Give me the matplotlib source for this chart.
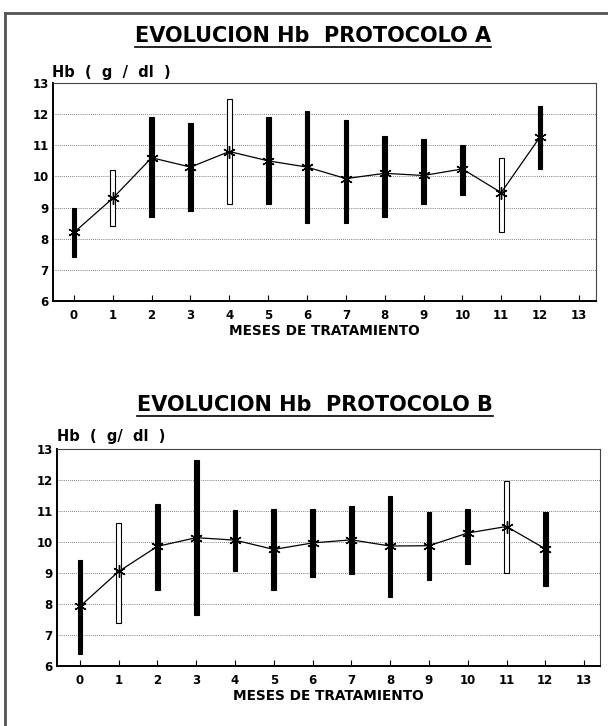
import numpy as np
import matplotlib
matplotlib.use("Agg")
import matplotlib.pyplot as plt
from matplotlib.lines import Line2D

plt.rcParams['font.family'] = ['DejaVu Sans']
plt.rcParams['font.weight'] = 'bold'

meses = list(range(13))
ticks_x = list(range(14))

# Protocolo A
a_media = [8.2, 9.3, 10.6, 10.3, 10.8, 10.5, 10.3, 9.93, 10.1, 10.03, 10.24, 9.48, 11.27]
a_min = [7.4, 8.4, 8.7, 8.9, 9.1, 9.1, 8.5, 8.5, 8.7, 9.1, 9.4, 8.2, 10.25]
a_max = [9.0, 10.2, 11.9, 11.7, 12.5, 11.9, 12.1, 11.8, 11.3, 11.2, 11.0, 10.6, 12.25]
a_hueco = [False, True, False, False, True, False, False, False, False, False, False, True, False]

# Protocolo B
b_media = [7.92, 9.05, 9.86, 10.14, 10.06, 9.76, 9.97, 10.07, 9.87, 9.88, 10.29, 10.5, 9.78]
b_min = [6.4, 7.4, 8.44, 7.63, 9.05, 8.45, 8.87, 8.97, 8.24, 8.76, 9.28, 9.0, 8.58]
b_max = [9.42, 10.62, 11.24, 12.64, 11.04, 11.05, 11.06, 11.15, 11.47, 10.97, 11.07, 11.98, 10.98]
b_hueco = [False, True, False, False, False, False, False, False, False, False, False, True, False]

W, H = 608, 726
fig = plt.figure(figsize=(W / 100, H / 100), dpi=100)


def px_ax(l, r, t, b):
    return fig.add_axes([l / W, 1 - b / H, (r - l) / W, (b - t) / H])


def panel(ax, media, lo, hi, hueco, xlim):
    lo = np.array(lo)
    hi = np.array(hi)
    colores = ['white' if h else 'black' for h in hueco]
    ax.bar(meses, hi - lo, bottom=lo, width=0.12, color=colores,
           edgecolor='black', linewidth=0.8, zorder=3)
    ax.plot(meses, media, color='black', linewidth=0.9, marker=(6, 2, 0),
            markersize=9, markeredgewidth=1.0, zorder=4)
    ax.set_xlim(*xlim)
    ax.set_ylim(6, 13)
    ax.set_xticks(ticks_x)
    ax.set_yticks(range(6, 14))
    ax.yaxis.grid(True, linestyle=(0, (1, 1.5)), color='#555555', linewidth=0.6)
    ax.set_axisbelow(True)
    ax.tick_params(axis='x', direction='in', length=4, width=0.8, pad=6,
                   labelsize=8.5)
    ax.tick_params(axis='y', length=0, pad=3, labelsize=8.5)
    for s in ['left', 'bottom']:
        ax.spines[s].set_linewidth(1.4)
    for s in ['top', 'right']:
        ax.spines[s].set_linewidth(0.8)
        ax.spines[s].set_color('#444444')
    for lab in ax.get_xticklabels() + ax.get_yticklabels():
        lab.set_fontweight('bold')
    ax.set_xlabel('MESES DE TRATAMIENTO', fontsize=9.8, fontweight='bold',
                  labelpad=1)


ax1 = px_ax(53, 596, 83, 301)
panel(ax1, a_media, a_min, a_max, a_hueco, (-0.54, 13.44))
ax2 = px_ax(57, 600, 449, 666)
panel(ax2, b_media, b_min, b_max, b_hueco, (-0.59, 13.41))

titulos = []
titulos.append(fig.text(313 / W, 1 - 36 / H, 'EVOLUCION Hb  PROTOCOLO A',
                        ha='center', va='center', fontsize=15, fontweight='bold'))
titulos.append(fig.text(315 / W, 1 - 405 / H, 'EVOLUCION Hb  PROTOCOLO B',
                        ha='center', va='center', fontsize=15, fontweight='bold'))
fig.text(52 / W, 1 - 73 / H, 'Hb  (  g  /  dl  )', ha='left', va='center',
         fontsize=10.5, fontweight='bold')
fig.text(57 / W, 1 - 437 / H, 'Hb  (  g/  dl  )', ha='left', va='center',
         fontsize=10.5, fontweight='bold')

# subrayado de los titulos
fig.canvas.draw()
r = fig.canvas.get_renderer()
for t in titulos:
    bb = t.get_window_extent(r)
    y = (bb.y0 - 1) / H
    fig.add_artist(Line2D([bb.x0 / W, bb.x1 / W], [y, y], color='black',
                          linewidth=1.2))

# marco exterior (recortado)
fig.add_artist(Line2D([5 / W, 1], [1 - 13 / H, 1 - 13 / H], color='#555555', linewidth=2))
fig.add_artist(Line2D([5 / W, 5 / W], [0, 1 - 13 / H], color='#555555', linewidth=2))

fig.savefig('out.png', dpi=100)
